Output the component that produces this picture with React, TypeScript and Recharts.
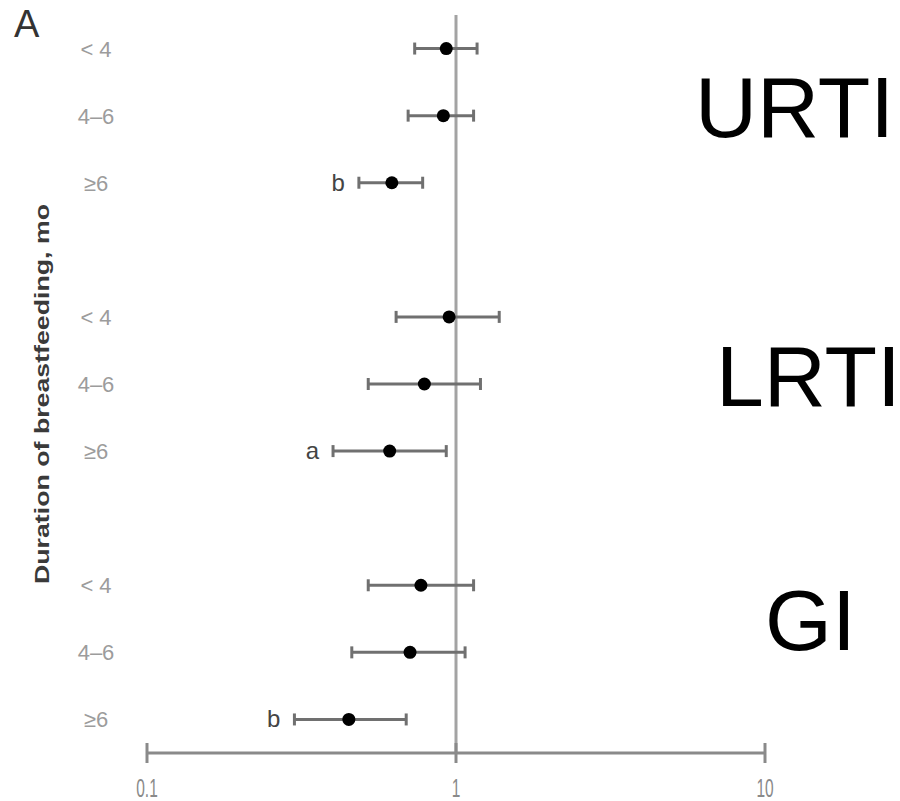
/**
 * Forest plot: odds ratios (95% CI) of infection by duration of
 * breastfeeding, grouped by outcome (URTI, LRTI, GI). Log x axis.
 */

import { ScatterChart, Scatter, XAxis, YAxis, ErrorBar, ReferenceLine, Label } from "recharts";

const OUTCOMES = ["URTI", "LRTI", "GI"];
const DURATIONS = ["< 4", "4–6", "≥6"];

// one value per outcome x duration, in reading order
const ODDS_RATIO = [0.93, 0.91, 0.62, 0.95, 0.79, 0.61, 0.77, 0.71, 0.45];
const CI_LOW = [0.735, 0.7, 0.485, 0.64, 0.52, 0.4, 0.52, 0.46, 0.3];
const CI_HIGH = [1.17, 1.14, 0.78, 1.38, 1.2, 0.93, 1.14, 1.07, 0.69];
const NOTES = ["", "", "b", "", "", "a", "", "", "b"];

const X_TICKS = [0.1, 1, 10];

const FONT = "'Liberation Sans', Arial, sans-serif";

// an empty row is left between outcome groups
const data = ODDS_RATIO.map((value, i) => ({
  value,
  row: Math.floor(i / 3) * 4 + (i % 3),
  label: DURATIONS[i % 3],
  err: [value - CI_LOW[i], CI_HIGH[i] - value],
}));

const noteData = data
  .map((d, i) => ({ value: CI_LOW[i], row: d.row, note: NOTES[i] }))
  .filter((d) => d.note);

const rowTicks = data.map((d) => d.row);
const rowLabel: Record<number, string> = Object.fromEntries(data.map((d) => [d.row, d.label]));

function RowTick({ x, y, payload }: any) {
  return (
    <text
      x={x}
      y={y}
      dy={8}
      textAnchor="middle"
      fill="#9c9c9c"
      fontSize={22}
      fontFamily={FONT}
    >
      {rowLabel[payload.value]}
    </text>
  );
}

function LogTick({ x, y, payload }: any) {
  return (
    <g>
      <line x1={x} x2={x} y1={y - 10} y2={y + 10} stroke="#8a8a8a" strokeWidth={3} />
      <text
        x={x}
        y={y + 44}
        textAnchor="middle"
        fill="#8a8a8a"
        fontSize={25}
        fontFamily={FONT}
        transform={`translate(${x} 0) scale(0.62 1) translate(${-x} 0)`}
      >
        {String(payload.value)}
      </text>
    </g>
  );
}

function YTitle({ viewBox }: any) {
  const cx = 41;
  const cy = viewBox.y + viewBox.height / 2 + 10;
  return (
    <text
      x={cx}
      y={cy}
      transform={`rotate(-90 ${cx} ${cy})`}
      textAnchor="middle"
      dominantBaseline="central"
      fill="#3a3a3a"
      fontSize={21}
      fontWeight="bold"
      fontFamily={FONT}
      textLength={380}
      lengthAdjust="spacingAndGlyphs"
    >
      Duration of breastfeeding, mo
    </text>
  );
}

const groupLabelPos = [
  { x: 695, y: 137 },
  { x: 716, y: 406 },
  { x: 765, y: 650 },
];

export default function App() {
  return (
    <div style={{ position: "relative", width: 900, height: 801, background: "#fff" }}>
      <style>{"body{margin:0}"}</style>
      <ScatterChart width={900} height={801} margin={{ top: 15, right: 135, bottom: 0, left: 0 }}>
        <XAxis
          type="number"
          dataKey="value"
          scale="log"
          domain={[0.1, 10]}
          ticks={X_TICKS}
          interval={0}
          allowDataOverflow
          height={48}
          tickSize={0}
          tickMargin={0}
          tickLine={false}
          axisLine={{ stroke: "#8a8a8a", strokeWidth: 3 }}
          tick={<LogTick />}
        />
        <YAxis
          type="number"
          dataKey="row"
          domain={[-0.5, 10.5]}
          reversed
          ticks={rowTicks}
          interval={0}
          width={147}
          tickSize={0}
          tickMargin={51}
          axisLine={false}
          tickLine={false}
          tick={<RowTick />}
        >
          <Label content={<YTitle />} />
        </YAxis>
        <ReferenceLine x={1} stroke="#a3a3a3" strokeWidth={3} />
        <Scatter
          data={data}
          isAnimationActive={false}
          shape={(p: any) => <circle cx={p.cx} cy={p.cy} r={6.5} fill="#000" />}
        >
          <ErrorBar dataKey="err" direction="x" width={6} stroke="#707070" strokeWidth={3} />
        </Scatter>
        <Scatter
          data={noteData}
          isAnimationActive={false}
          shape={(p: any) => (
            <text
              x={p.cx - 14}
              y={p.cy + 8}
              textAnchor="end"
              fill="#444"
              fontSize={24}
              fontFamily={FONT}
            >
              {p.payload.note}
            </text>
          )}
        />
      </ScatterChart>
      <svg
        width={900}
        height={801}
        style={{ position: "absolute", left: 0, top: 0, pointerEvents: "none" }}
      >
        <text x={14} y={37} fontSize={38} fill="#333" fontFamily={FONT}>
          A
        </text>
        {OUTCOMES.map((name, i) => (
          <text
            key={name}
            x={groupLabelPos[i].x}
            y={groupLabelPos[i].y}
            fontSize={86}
            fill="#000"
            fontFamily={FONT}
          >
            {name}
          </text>
        ))}
      </svg>
    </div>
  );
}
